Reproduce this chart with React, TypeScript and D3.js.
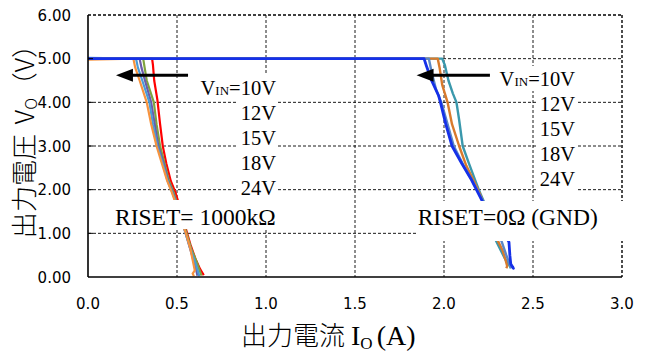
import React from "react";
import * as d3 from "d3";

const width = 646;
const height = 356;
const margin = { top: 15, right: 24, bottom: 79, left: 88 };
const innerWidth = width - margin.left - margin.right;
const innerHeight = height - margin.top - margin.bottom;

const xTicks = [0, 0.5, 1.0, 1.5, 2.0, 2.5, 3.0];
const yTicks = [0, 1, 2, 3, 4, 5, 6];
const vinLabels = ["10V", "12V", "15V", "18V", "24V"];

// RISET = 1000kΩ, [Io (A), Vo (V)]
const left10 = [[0, 5.0], [0.2, 5.0], [0.36, 5.0], [0.365, 4.85], [0.372, 4.5], [0.39, 4.05], [0.405, 3.5], [0.42, 3.0], [0.44, 2.6], [0.465, 2.2], [0.49, 1.95], [0.505, 1.75], [0.53, 1.4], [0.55, 1.1], [0.575, 0.75], [0.605, 0.4], [0.63, 0.18], [0.645, 0.08], [0.65, 0.04]];
const left12 = [[0, 5.0], [0.31, 5.0], [0.318, 4.8], [0.33, 4.5], [0.37, 4.0], [0.385, 3.5], [0.405, 3.0], [0.43, 2.6], [0.455, 2.2], [0.48, 1.95], [0.5, 1.7], [0.525, 1.4], [0.55, 1.05], [0.58, 0.65], [0.61, 0.35], [0.63, 0.12], [0.638, 0.03]];
const left15 = [[0, 5.0], [0.29, 5.0], [0.3, 4.8], [0.32, 4.5], [0.355, 4.0], [0.375, 3.5], [0.395, 3.0], [0.425, 2.6], [0.45, 2.2], [0.475, 1.95], [0.495, 1.72], [0.52, 1.4], [0.545, 1.05], [0.57, 0.7], [0.595, 0.35], [0.61, 0.12], [0.615, 0.03]];
const left18 = [[0, 5.02], [0.27, 5.0], [0.28, 4.8], [0.305, 4.5], [0.345, 4.0], [0.365, 3.5], [0.39, 3.0], [0.42, 2.6], [0.447, 2.2], [0.472, 1.95], [0.493, 1.72], [0.52, 1.38], [0.545, 1.05], [0.575, 0.65], [0.605, 0.3], [0.62, 0.1], [0.625, 0.02]];
const left24 = [[0, 4.98], [0.255, 5.0], [0.265, 4.8], [0.29, 4.5], [0.33, 4.0], [0.355, 3.5], [0.385, 3.0], [0.415, 2.6], [0.445, 2.2], [0.47, 1.95], [0.49, 1.72], [0.52, 1.35], [0.55, 1.0], [0.575, 0.65], [0.59, 0.35], [0.6, 0.15], [0.588, 0.08], [0.595, 0.02]];

// RISET = 0Ω (GND)
const right10 = [[0, 5.0], [1.99, 5.0], [2.005, 4.85], [2.025, 4.5], [2.05, 4.2], [2.07, 4.0], [2.085, 3.6], [2.105, 3.0], [2.14, 2.6], [2.175, 2.22], [2.2, 1.95], [2.225, 1.72], [2.25, 1.4], [2.27, 1.1], [2.29, 0.85], [2.32, 0.6], [2.345, 0.4], [2.37, 0.25], [2.375, 0.2]];
const right12 = [[0, 5.0], [1.965, 5.0], [1.975, 4.8], [1.99, 4.4], [2.005, 4.2], [2.02, 4.0], [2.045, 3.5], [2.085, 3.0], [2.125, 2.55], [2.165, 2.22], [2.2, 1.92], [2.22, 1.72], [2.26, 1.3], [2.3, 0.85], [2.33, 0.6], [2.345, 0.4], [2.355, 0.25], [2.35, 0.2]];
const right15 = [[0, 5.0], [1.915, 5.0], [1.93, 4.7], [1.955, 4.3], [1.985, 4.0], [2.02, 3.5], [2.055, 3.0], [2.11, 2.55], [2.16, 2.2], [2.195, 1.92], [2.22, 1.72], [2.28, 1.2], [2.325, 0.8], [2.35, 0.5], [2.37, 0.28], [2.38, 0.2]];
const right24 = [[0, 5.0], [1.888, 5.0], [1.9, 4.85], [1.93, 4.5], [1.97, 4.15], [1.98, 4.0], [2.01, 3.5], [2.045, 3.0], [2.1, 2.6], [2.155, 2.22], [2.195, 1.9], [2.22, 1.7], [2.3, 1.2], [2.345, 0.95], [2.365, 0.8], [2.37, 0.5], [2.375, 0.3], [2.39, 0.2], [2.385, 0.24]];

const leftSeries = [left10, left12, left15, left18, left24];
const leftColors = ["#ff0000", "#7fa33e", "#6b5ba8", "#4a9bd6", "#f7933e"];
const rightSeries = [right10, right12, right15, right24];
const rightColors = ["#3a98ac", "#d97a2b", "#5b87c5", "#1530e8"];

const sans = "'DejaVu Sans', sans-serif";
const serif = "'Liberation Serif', 'Times New Roman', serif";
const cjk = "'Noto Sans CJK JP', sans-serif";

const App = () => {
  const x = d3.scaleLinear().domain([0, 3]).range([0, innerWidth]);
  const y = d3.scaleLinear().domain([0, 6]).range([innerHeight, 0]);
  const line = d3.line<number[]>().x(d => x(d[0])).y(d => y(d[1]));

  // annotation anchors
  const leftLabelRight = x(1.056);
  const rightLabelRight = x(2.736);
  const leftLabelTop = 73;
  const rightLabelTop = 64;
  const step = 25;

  const arrow = (from: number, to: number, v: number) => {
    const tx = x(to), ty = y(v), fx = x(from);
    return (
      <g>
        <line x1={fx} y1={ty} x2={tx + 12} y2={ty} stroke="#000" strokeWidth={3} />
        <path d={`M${tx},${ty} L${tx + 17},${ty - 6.5} L${tx + 17},${ty + 6.5} Z`} fill="#000" />
      </g>
    );
  };

  const vinBlock = (right: number, top: number) => (
    <g>
      {vinLabels.map((lab, i) => {
        const cy = top + i * step;
        const w = i === 0 ? 80 : 37;
        return (
          <g key={lab}>
            <rect x={right - w - 1} y={cy - 13} width={w + 3} height={25} fill="#fff" />
            <text x={right} y={cy + 7} textAnchor="end" fontFamily={serif} fontSize={20.5} fill="#000">
              {i === 0 ? (
                <>
                  <tspan>V</tspan>
                  <tspan fontSize={13}>IN</tspan>
                  <tspan>=10V</tspan>
                </>
              ) : lab}
            </text>
          </g>
        );
      })}
    </g>
  );

  return (
    <svg width={width} height={height} style={{ position: "absolute", left: 0, top: 0, background: "#fff" }}>
      <g transform={`translate(${margin.left},${margin.top})`}>
        {xTicks.slice(1).map(t => (
          <line key={"gx" + t} x1={x(t)} x2={x(t)} y1={0} y2={innerHeight} stroke="#000"
            strokeWidth={t === 3 ? 1.4 : 0.9} strokeDasharray="3 2" />
        ))}
        {yTicks.slice(1).map(t => (
          <line key={"gy" + t} x1={0} x2={innerWidth} y1={y(t)} y2={y(t)} stroke="#000"
            strokeWidth={t === 6 ? 1.4 : 0.9} strokeDasharray="3 2" />
        ))}

        {leftSeries.map((s, i) => (
          <path key={"l" + i} d={line(s) || ""} fill="none" stroke={leftColors[i]} strokeWidth={2.2} strokeLinejoin="round" />
        ))}
        {rightSeries.map((s, i) => (
          <path key={"r" + i} d={line(s) || ""} fill="none" stroke={rightColors[i]}
            strokeWidth={i === rightSeries.length - 1 ? 2.8 : 2.4} strokeLinejoin="round" />
        ))}

        {yTicks.slice(1, -1).map(t => (
          <line key={"ty" + t} x1={0} x2={5} y1={y(t)} y2={y(t)} stroke="#000" strokeWidth={1} />
        ))}
        <line x1={0} x2={0} y1={0} y2={innerHeight} stroke="#000" strokeWidth={1.6} />
        <line x1={0} x2={innerWidth} y1={innerHeight} y2={innerHeight} stroke="#000" strokeWidth={1.6} />

        {vinBlock(leftLabelRight, leftLabelTop)}
        {vinBlock(rightLabelRight, rightLabelTop)}

        <rect x={x(0.141)} y={185} width={169} height={29} fill="#fff" />
        <text x={x(0.152)} y={210} fontFamily={serif} fontSize={23.5} fill="#000">RISET= 1000kΩ</text>
        <rect x={x(1.845)} y={186} width={212} height={40} fill="#fff" />
        <text x={x(1.852)} y={210} fontFamily={serif} fontSize={23.5} fill="#000">RISET=0Ω (GND)</text>

        {arrow(0.562, 0.157, 4.62)}
        {arrow(2.258, 1.846, 4.62)}

        {yTicks.map(t => (
          <text key={"yl" + t} x={-17} y={y(t) + 5.5} textAnchor="end" fontFamily={sans} fontSize={15} fill="#000">
            {d3.format(".2f")(t)}
          </text>
        ))}
        {xTicks.map(t => (
          <text key={"xl" + t} x={x(t)} y={innerHeight + 32} textAnchor="middle" fontFamily={sans} fontSize={15} fill="#000">
            {d3.format(".1f")(t)}
          </text>
        ))}
      </g>

      <text x={241} y={345} fill="#000">
        <tspan fontFamily={cjk} fontWeight={300} fontSize={26}>出力電流</tspan>
        <tspan fontFamily={serif} fontSize={28} dx={6}>I</tspan>
        <tspan fontFamily={serif} fontSize={17} dy={4}>O</tspan>
        <tspan fontFamily={serif} fontSize={28} dy={-4} dx={4}>(A)</tspan>
      </text>

      <text transform="translate(34,135) rotate(-90)" textAnchor="middle" fill="#000" fontFamily={cjk} fontWeight={300} fontSize={26}>
        <tspan>出力電圧</tspan>
        <tspan dx={10}>V</tspan>
        <tspan fontSize={16} dy={3}>O</tspan>
        <tspan dy={-3}>（V）</tspan>
      </text>
    </svg>
  );
};

export default App;
